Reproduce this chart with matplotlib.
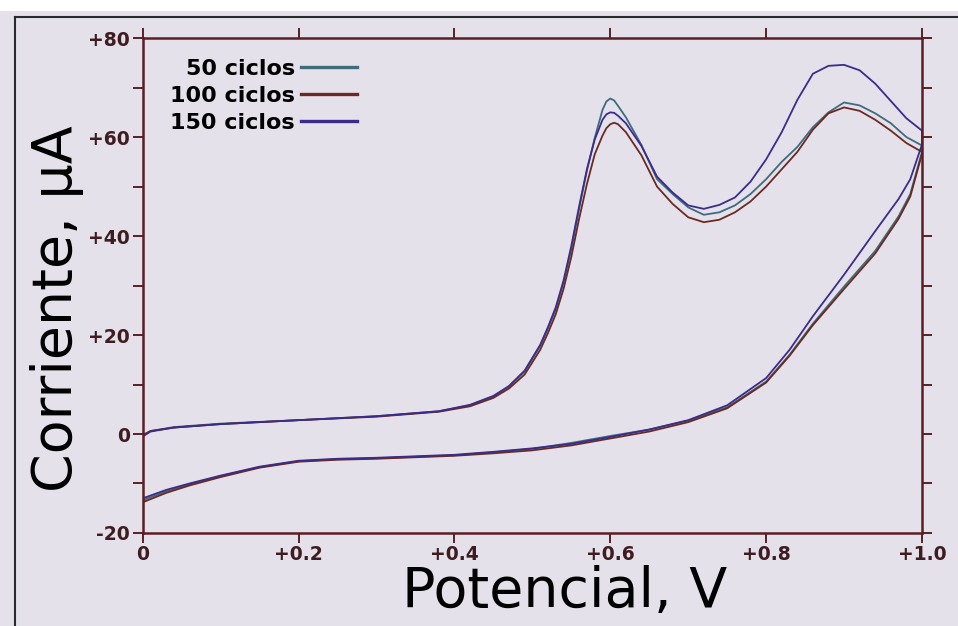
import numpy as np
import matplotlib.pyplot as plt
from matplotlib.lines import Line2D
from matplotlib.patches import Rectangle

# potential grids (V): lower branch goes 0 -> 1.0, upper branch comes back 1.0 -> 0
e_low = [0.0, 0.03, 0.06, 0.10, 0.15, 0.20, 0.25, 0.30, 0.35, 0.40, 0.45, 0.50,
         0.55, 0.60, 0.65, 0.70, 0.75, 0.80, 0.83, 0.86, 0.90, 0.94, 0.97, 0.985, 1.0]
e_up = [1.0, 0.98, 0.96, 0.94, 0.92, 0.90, 0.88, 0.86, 0.84, 0.82, 0.80, 0.78,
        0.76, 0.74, 0.72, 0.70, 0.68, 0.66, 0.64, 0.62, 0.61, 0.605, 0.60, 0.595,
        0.59, 0.58, 0.57, 0.56, 0.55, 0.54, 0.53, 0.52, 0.51, 0.49, 0.47, 0.45,
        0.42, 0.38, 0.30, 0.20, 0.10, 0.04, 0.01, 0.0]

# current (uA), 50 ciclos
i50_low = [-13.4, -11.6, -10.2, -8.5, -6.7, -5.5, -5.1, -4.9, -4.6, -4.3, -3.7, -3.0,
           -1.8, -0.4, 0.9, 2.7, 5.4, 10.6, 16.0, 22.3, 29.8, 37.0, 44.0, 48.5, 57.0]
i50_up = [58.3, 60.0, 62.8, 64.8, 66.4, 67.0, 65.0, 62.0, 58.0, 55.0, 51.5, 48.5,
          46.2, 44.8, 44.3, 45.8, 48.5, 51.5, 58.4, 64.0, 66.3, 67.4, 67.8, 67.2,
          65.5, 59.8, 53.2, 45.5, 37.3, 30.6, 25.2, 21.3, 17.8, 12.6, 9.6, 7.6,
          5.8, 4.6, 3.6, 2.8, 2.1, 1.4, 0.6, -0.3]

# 100 ciclos
i100_low = [-13.8, -11.9, -10.4, -8.7, -6.8, -5.6, -5.2, -5.0, -4.7, -4.4, -3.9, -3.3,
            -2.3, -0.9, 0.5, 2.4, 5.2, 10.4, 15.8, 22.0, 29.3, 36.5, 43.5, 48.0, 56.6]
i100_up = [57.0, 58.8, 61.3, 63.5, 65.3, 66.0, 64.8, 61.5, 57.0, 53.5, 50.0, 47.0,
           44.8, 43.3, 42.8, 43.8, 46.5, 50.0, 56.3, 61.0, 62.6, 62.9, 62.6, 61.8,
           60.3, 56.5, 50.5, 43.5, 35.8, 29.3, 24.2, 20.4, 17.0, 12.0, 9.2, 7.3,
           5.6, 4.5, 3.5, 2.8, 2.0, 1.3, 0.6, -0.2]

# 150 ciclos
i150_low = [-13.0, -11.3, -10.0, -8.4, -6.6, -5.4, -5.0, -4.8, -4.5, -4.2, -3.6, -2.9,
            -2.0, -0.6, 0.9, 2.8, 5.8, 11.3, 17.0, 23.8, 32.2, 41.0, 47.5, 51.5, 58.5]
i150_up = [61.3, 63.8, 67.3, 70.8, 73.5, 74.6, 74.4, 72.8, 67.5, 61.0, 55.5, 51.0,
           47.8, 46.3, 45.5, 46.2, 48.8, 52.0, 58.2, 62.8, 64.3, 64.9, 65.0, 64.6,
           63.5, 59.5, 53.5, 46.0, 38.0, 31.0, 25.6, 21.6, 18.0, 12.8, 9.7, 7.7,
           5.9, 4.6, 3.6, 2.8, 2.0, 1.3, 0.5, -0.5]

labels = ['50 ciclos', '100 ciclos', '150 ciclos']
colors = ['#3f6b7e', '#6a2a22', '#3b2c8c']

xticks = [0, 0.2, 0.4, 0.6, 0.8, 1.0]
xticklabels = ['0', '+0.2', '+0.4', '+0.6', '+0.8', '+1.0']
yticks = [-20, 0, 20, 40, 60, 80]
yticklabels = ['-20', '0', '+20', '+40', '+60', '+80']

paper = '#e4e1ea'
frame = '#5a1f25'

fig = plt.figure(figsize=(9.58, 6.26), dpi=100, facecolor=paper)
ax = fig.add_axes([0.149, 0.1486, 0.8134, 0.7905], facecolor=paper)

curves = [(i50_low, i50_up), (i100_low, i100_up), (i150_low, i150_up)]
for (lo, up), c, lab in zip(curves, colors, labels):
    e = list(e_low) + list(e_up)
    i = list(lo) + list(up)
    ax.plot(e, i, color=c, lw=1.3, label=lab)

ax.set_xlim(0, 1.0)
ax.set_ylim(-20, 80)
ax.set_xticks(xticks)
ax.set_xticklabels(xticklabels)
ax.set_yticks(yticks)
ax.set_yticklabels(yticklabels)
ax.set_yticks(np.arange(-10, 80, 20), minor=True)

for s in ax.spines.values():
    s.set_color(frame)
    s.set_linewidth(1.8)
ax.tick_params(which='both', direction='out', length=7, width=1.4, color=frame,
               top=True, right=True, pad=2)
ax.tick_params(axis='both', labelsize=13.5, labelcolor='#3e1c20')
for t in ax.get_xticklabels() + ax.get_yticklabels():
    t.set_fontweight('bold')

handles = [Line2D([], [], color=c, lw=2.4) for c in colors]
leg = ax.legend(handles, labels, loc='upper right', bbox_to_anchor=(0.275, 0.958),
                frameon=False, markerfirst=False, borderpad=0, borderaxespad=0,
                handlelength=2.5, handletextpad=0.3, labelspacing=0.32,
                prop={'size': 16, 'weight': 'bold'})

fig.text(565 / 958, 1 - 607 / 626, 'Potencial, V', fontsize=40, ha='center', va='baseline')
fig.text(57 / 958, 1 - 309 / 626, 'Corriente, µA', fontsize=40, rotation=90,
         ha='center', va='center')

# scan edges
fig.patches.append(Rectangle((0, 1 - 11 / 626), 1, 11 / 626, transform=fig.transFigure,
                             facecolor='white', edgecolor='none'))
fig.add_artist(Line2D([15 / 958, 1], [1 - 17 / 626, 1 - 17 / 626], color='#2a2a2a', lw=1.5))
fig.add_artist(Line2D([15 / 958, 15 / 958], [0, 1 - 17 / 626], color='#2a2a2a', lw=1.5))

plt.savefig('out.png', dpi=100, facecolor=paper)
